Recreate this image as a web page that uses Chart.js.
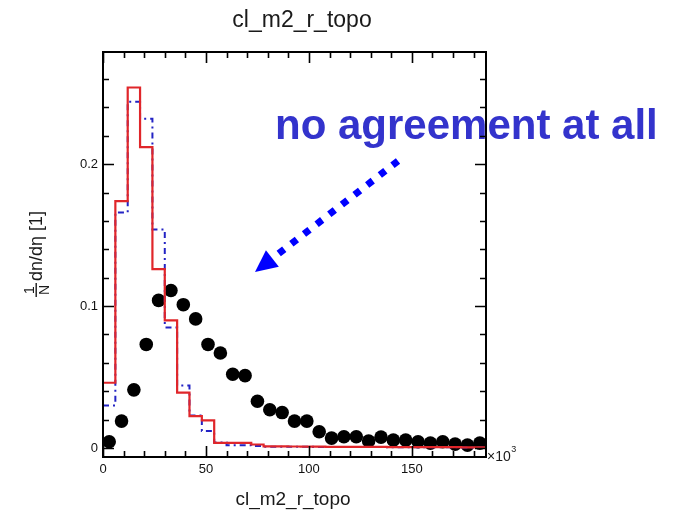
<!DOCTYPE html>
<html>
<head>
<meta charset="utf-8">
<script src="https://cdn.jsdelivr.net/npm/chart.js@4"></script>
<style>
  html, body { margin: 0; padding: 0; background: #fff; }
  #wrap { width: 676px; height: 515px; }
</style>
</head>
<body>
<div id="wrap"><canvas id="chart" width="676" height="515"></canvas></div>
<script>
// cl_m2_r_topo, in units of 10^3, 6-wide bins from 0 to 186
const binWidth = 6;
const binLow = Array.from({ length: 31 }, (_, i) => i * binWidth);

// normalised distributions, 1/N dn/deta
const mcRed = [
  0.046, 0.174, 0.254, 0.212, 0.126, 0.090, 0.039, 0.0225, 0.0195, 0.0037,
  0.0037, 0.0037, 0.0025, 0.0012, 0.0012, 0.0011, 0.0010, 0.0010, 0.0009, 0.0009,
  0.0008, 0.0008, 0.0008, 0.0007, 0.0007, 0.0007, 0.0006, 0.0006, 0.0006, 0.0005,
  0.0005,
];
const mcBlue = [
  0.030, 0.166, 0.244, 0.232, 0.154, 0.085, 0.044, 0.023, 0.012, 0.004,
  0.002, 0.002, 0.0015, 0.0010, 0.0010, 0.0009, 0.0009, 0.0008, 0.0008, 0.0008,
  0.0007, 0.0007, 0.0007, 0.0006, 0.0006, 0.0006, 0.0005, 0.0005, 0.0005, 0.0004,
  0.0004,
];
const dataPoints = [
  0.0044, 0.019, 0.041, 0.073, 0.104, 0.111, 0.101, 0.091, 0.073, 0.067,
  0.052, 0.051, 0.033, 0.027, 0.025, 0.019, 0.019, 0.0115, 0.007, 0.008,
  0.008, 0.005, 0.0077, 0.0056, 0.0056, 0.0044, 0.0035, 0.0044, 0.0028, 0.0021,
  0.0035,
];

const xMajor = [0, 50, 100, 150];
const xMinorStep = 10;
const yMajor = [0, 0.1, 0.2];
const yMinorStep = 0.02;

const X_MIN = 0, X_MAX = 186;
const Y_MIN = -0.0063, Y_MAX = 0.279;

const FONT = '"Liberation Sans", Arial, Helvetica, sans-serif';

// histogram outline: one point per bin low edge, plus the closing edge
function stepData(values) {
  const pts = binLow.map((x, i) => ({ x, y: values[i] }));
  pts.push({ x: binLow[binLow.length - 1] + binWidth, y: values[values.length - 1] });
  return pts;
}

const framePlugin = {
  id: "frame",
  afterDraw(chart) {
    const ctx = chart.ctx;
    const { left, right, top, bottom } = chart.chartArea;
    const xs = chart.scales.x, ys = chart.scales.y;

    ctx.save();

    // titles
    ctx.fillStyle = "#1a1a1a";
    ctx.textAlign = "center";
    ctx.textBaseline = "alphabetic";
    ctx.font = "23px " + FONT;
    ctx.fillText("cl_m2_r_topo", 302, 27);
    ctx.font = "19px " + FONT;
    ctx.fillText("cl_m2_r_topo", 293, 505);

    // y title: 1/N dn/deta [1], rotated
    ctx.save();
    ctx.translate(42, 297);
    ctx.rotate(-Math.PI / 2);
    ctx.font = "14px " + FONT;
    ctx.textAlign = "center";
    ctx.fillText("1", 7, -8);
    ctx.fillText("N", 7, 7);
    ctx.fillRect(0, -6.5, 14, 1.4);
    ctx.font = "18px " + FONT;
    ctx.textAlign = "left";
    ctx.fillText("dn/d\u03b7 [1]", 16, 0);
    ctx.restore();

    // x10^3 exponent
    ctx.textAlign = "left";
    ctx.font = "14px " + FONT;
    ctx.fillText("\u00d710", 487, 461);
    const w = ctx.measureText("\u00d710").width;
    ctx.font = "9px " + FONT;
    ctx.fillText("3", 487 + w + 0.5, 452);

    // annotation
    ctx.fillStyle = "#3333cc";
    ctx.font = "bold 42px " + FONT;
    ctx.fillText("no agreement at all", 275, 139);

    // dotted arrow
    const x0 = 398, y0 = 161, tipX = 255, tipY = 272;
    const dx = tipX - x0, dy = tipY - y0;
    const len = Math.hypot(dx, dy);
    const ux = dx / len, uy = dy / len;
    const headLen = 22, headHalf = 10.5;
    const bx = tipX - ux * headLen, by = tipY - uy * headLen;
    ctx.strokeStyle = "#0000ff";
    ctx.fillStyle = "#0000ff";
    ctx.lineWidth = 7;
    ctx.lineCap = "butt";
    ctx.setLineDash([7, 9]);
    ctx.beginPath();
    ctx.moveTo(x0, y0);
    ctx.lineTo(bx - ux * 2, by - uy * 2);
    ctx.stroke();
    ctx.setLineDash([]);
    ctx.beginPath();
    ctx.moveTo(tipX, tipY);
    ctx.lineTo(bx - uy * headHalf, by + ux * headHalf);
    ctx.lineTo(bx + uy * headHalf, by - ux * headHalf);
    ctx.closePath();
    ctx.fill();

    // frame
    ctx.strokeStyle = "#000";
    ctx.lineWidth = 2;
    ctx.strokeRect(left, top, right - left, bottom - top);

    // inward ticks on all four sides
    const major = 11, minor = 6;
    ctx.lineWidth = 1.6;
    ctx.beginPath();
    for (let v = X_MIN; v <= X_MAX; v += xMinorStep) {
      const px = Math.round(xs.getPixelForValue(v)) + 0.5;
      const l = xMajor.includes(v) ? major : minor;
      ctx.moveTo(px, bottom); ctx.lineTo(px, bottom - l);
      ctx.moveTo(px, top); ctx.lineTo(px, top + l);
    }
    for (let i = 0; i * yMinorStep <= Y_MAX; i++) {
      const v = +(i * yMinorStep).toFixed(2);
      const py = Math.round(ys.getPixelForValue(v)) + 0.5;
      const l = yMajor.includes(v) ? major : minor;
      ctx.moveTo(left, py); ctx.lineTo(left + l, py);
      ctx.moveTo(right, py); ctx.lineTo(right - l, py);
    }
    ctx.stroke();

    ctx.restore();
  },
};

new Chart(document.getElementById("chart"), {
  type: "scatter",
  data: {
    datasets: [
      {
        label: "red",
        data: stepData(mcRed),
        showLine: true,
        stepped: true,
        borderColor: "#e0262a",
        borderWidth: 2.2,
        pointRadius: 0,
        fill: false,
        order: 1,
      },
      {
        label: "blue",
        data: stepData(mcBlue),
        showLine: true,
        stepped: true,
        borderColor: "#2323c4",
        borderWidth: 2,
        borderDash: [6, 4, 2, 4],
        pointRadius: 0,
        fill: false,
        order: 2,
      },
      {
        label: "data",
        data: binLow.map((x, i) => ({ x: x + binWidth / 2, y: dataPoints[i] })),
        backgroundColor: "#000",
        borderColor: "#000",
        pointRadius: 6.8,
        pointBorderWidth: 0,
        clip: 8,
        order: 3,
      },
    ],
  },
  options: {
    responsive: false,
    animation: false,
    devicePixelRatio: 1,
    layout: { padding: { top: 52, right: 190, left: 0, bottom: 0 } },
    plugins: { legend: { display: false }, tooltip: { enabled: false }, title: { display: false } },
    scales: {
      x: {
        type: "linear",
        min: X_MIN,
        max: X_MAX,
        grid: { display: false, drawTicks: false },
        border: { display: false },
        afterBuildTicks: (s) => { s.ticks = xMajor.map((v) => ({ value: v })); },
        afterFit: (s) => { s.height = 58; },
        ticks: {
          padding: 5,
          maxRotation: 0,
          autoSkip: false,
          color: "#111",
          font: { size: 13, family: FONT },
          callback: (v) => String(v),
        },
      },
      y: {
        type: "linear",
        min: Y_MIN,
        max: Y_MAX,
        grid: { display: false, drawTicks: false },
        border: { display: false },
        afterBuildTicks: (s) => { s.ticks = yMajor.map((v) => ({ value: v })); },
        afterFit: (s) => { s.width = 103; },
        ticks: {
          padding: 5,
          autoSkip: false,
          color: "#111",
          font: { size: 13, family: FONT },
          callback: (v) => (v === 0 ? "0" : v.toFixed(1)),
        },
      },
    },
  },
  plugins: [framePlugin],
});
</script>
</body>
</html>
